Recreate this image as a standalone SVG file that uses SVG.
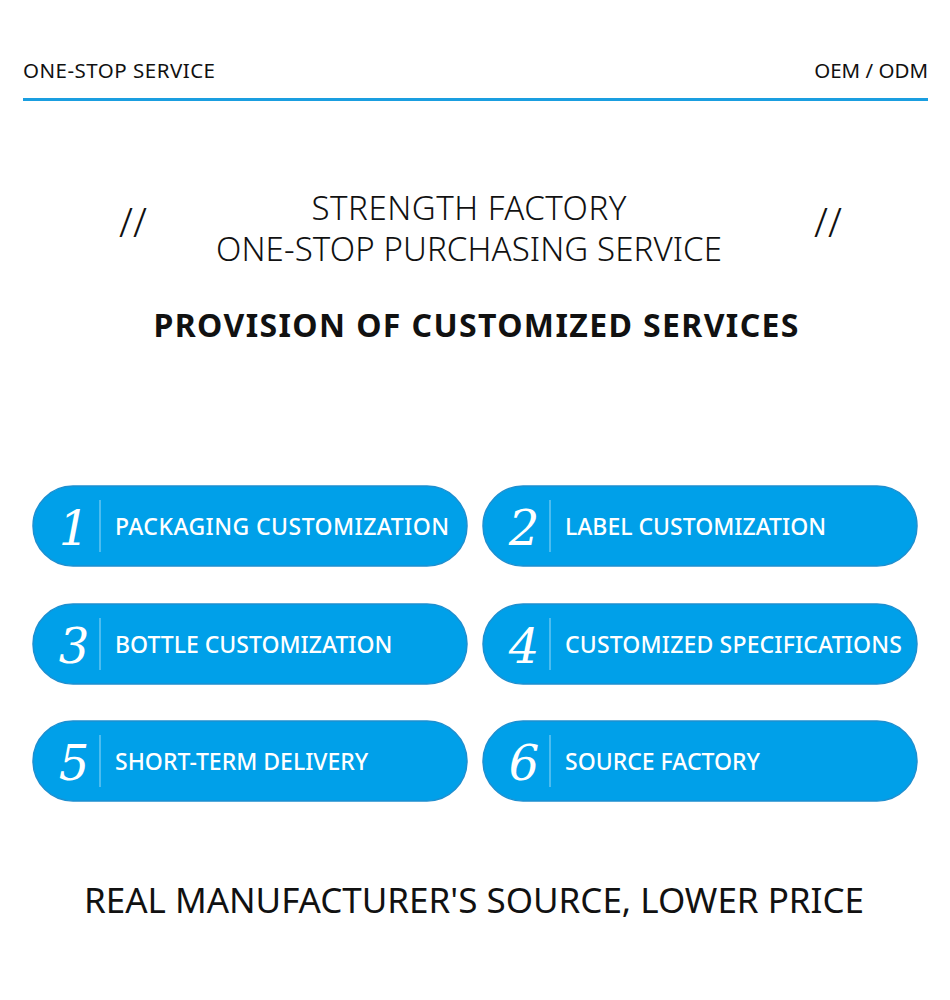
<svg xmlns="http://www.w3.org/2000/svg" width="950" height="1000" viewBox="0 0 950 1000">
<style>
.t{font-family:"Noto Sans","Open Sans",sans-serif;fill:#111}
.pill{fill:#00a0e9;stroke:#1d8fd0;stroke-width:1.5}
.num{font-family:"DejaVu Serif","Liberation Serif",serif;font-style:italic;font-size:48px;fill:#fff;text-anchor:middle;font-weight:300}
.lab{font-family:"Noto Sans","Open Sans",sans-serif;font-size:23px;fill:#fff;font-weight:500}
.div{stroke:#fff;stroke-opacity:0.6;stroke-width:1}
</style>
<rect width="950" height="1000" fill="#fff"/>
<text class="t" x="23" y="78" font-size="20.5" textLength="192">ONE-STOP SERVICE</text>
<text class="t" x="928" y="78" font-size="20.5" text-anchor="end">OEM / ODM</text>
<rect x="23" y="98" width="905" height="3" fill="#1a9ee0"/>
<text class="t" x="133" y="237" font-size="40" text-anchor="middle" font-weight="300">//</text>
<text class="t" x="828" y="237" font-size="40" text-anchor="middle" font-weight="300">//</text>
<text class="t" x="469" y="220" font-size="33" text-anchor="middle" font-weight="300" textLength="315">STRENGTH FACTORY</text>
<text class="t" x="469" y="261" font-size="33" text-anchor="middle" font-weight="300" textLength="506">ONE-STOP PURCHASING SERVICE</text>
<text class="t" x="476" y="337" font-size="32" text-anchor="middle" font-weight="bold" textLength="645">PROVISION OF CUSTOMIZED SERVICES</text>
<g id="n1"><rect class="pill" x="33" y="486" width="434" height="80" rx="40"/><text class="num" x="74" y="545">1</text><line class="div" x1="100" y1="500" x2="100" y2="552"/><text class="lab" x="115" y="535" textLength="334">PACKAGING CUSTOMIZATION</text></g>
<g id="n2"><rect class="pill" x="483" y="486" width="434" height="80" rx="40"/><text class="num" x="524" y="545">2</text><line class="div" x1="550" y1="500" x2="550" y2="552"/><text class="lab" x="565" y="535">LABEL CUSTOMIZATION</text></g>
<g id="n3"><rect class="pill" x="33" y="604" width="434" height="80" rx="40"/><text class="num" x="74" y="663">3</text><line class="div" x1="100" y1="618" x2="100" y2="670"/><text class="lab" x="115" y="653">BOTTLE CUSTOMIZATION</text></g>
<g id="n4"><rect class="pill" x="483" y="604" width="434" height="80" rx="40"/><text class="num" x="524" y="663">4</text><line class="div" x1="550" y1="618" x2="550" y2="670"/><text class="lab" x="565" y="653" textLength="337">CUSTOMIZED SPECIFICATIONS</text></g>
<g id="n5"><rect class="pill" x="33" y="721" width="434" height="80" rx="40"/><text class="num" x="74" y="780">5</text><line class="div" x1="100" y1="735" x2="100" y2="787"/><text class="lab" x="115" y="770">SHORT-TERM DELIVERY</text></g>
<g id="n6"><rect class="pill" x="483" y="721" width="434" height="80" rx="40"/><text class="num" x="524" y="780">6</text><line class="div" x1="550" y1="735" x2="550" y2="787"/><text class="lab" x="565" y="770">SOURCE FACTORY</text></g>
<g id="connectors"/>
<text class="t" x="474" y="913" font-size="35" text-anchor="middle" textLength="780">REAL MANUFACTURER'S SOURCE, LOWER PRICE</text>
</svg>
